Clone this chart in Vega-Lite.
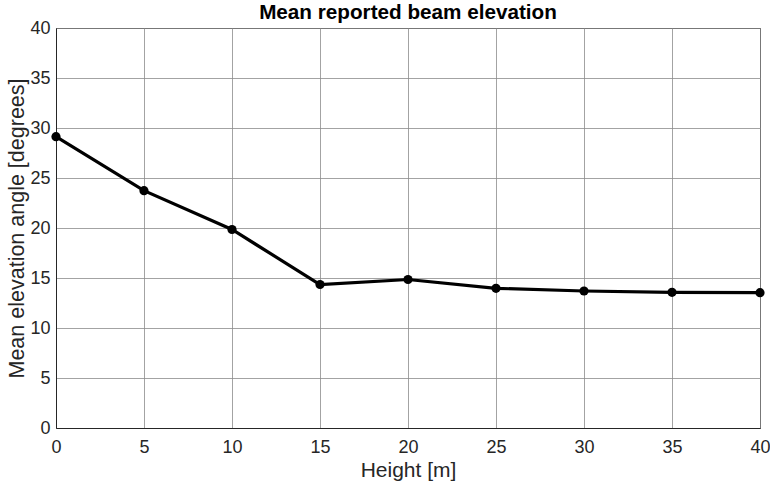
{
  "$schema": "https://vega.github.io/schema/vega-lite/v6.json",
  "width": 704,
  "height": 400,
  "autosize": {"type": "none"},
  "padding": {"left": 56, "top": 28, "right": 10, "bottom": 59},
  "background": "white",
  "title": {
    "text": "Mean reported beam elevation",
    "font": "Liberation Sans",
    "fontSize": 20.7,
    "fontWeight": "bold",
    "color": "#000000",
    "anchor": "middle",
    "offset": 0,
    "dy": 5
  },
  "config": {
    "view": {"stroke": "#262626", "strokeWidth": 1},
    "axis": {
      "labelFont": "Liberation Sans",
      "titleFont": "Liberation Sans",
      "labelFontSize": 18,
      "titleFontSize": 21,
      "labelColor": "#262626",
      "titleColor": "#262626",
      "titleFontWeight": "normal",
      "domainColor": "#262626",
      "gridColor": "#8c8c8c",
      "gridOpacity": 0.8,
      "ticks": false,
      "labelFlush": false
    }
  },
  "data": {
    "values": [
      {"h": 0, "angle": 29.13},
      {"h": 5, "angle": 23.73},
      {"h": 10, "angle": 19.85},
      {"h": 15, "angle": 14.35},
      {"h": 20, "angle": 14.85},
      {"h": 25, "angle": 13.97},
      {"h": 30, "angle": 13.7},
      {"h": 35, "angle": 13.57},
      {"h": 40, "angle": 13.53}
    ]
  },
  "encoding": {
    "x": {
      "field": "h",
      "type": "quantitative",
      "scale": {"domain": [0, 40], "nice": false},
      "axis": {"values": [0, 5, 10, 15, 20, 25, 30, 35, 40], "title": "Height [m]", "titlePadding": 3, "labelPadding": 10}
    },
    "y": {
      "field": "angle",
      "type": "quantitative",
      "scale": {"domain": [0, 40], "nice": false, "zero": true},
      "axis": {"values": [0, 5, 10, 15, 20, 25, 30, 35, 40], "title": "Mean elevation angle [degrees]", "titleFontSize": 21.5, "titlePadding": 1, "labelPadding": 6}
    }
  },
  "layer": [
    {"mark": {"type": "line", "color": "#000000", "strokeWidth": 3.2}},
    {"mark": {"type": "point", "filled": true, "color": "#000000", "opacity": 1, "size": 85}}
  ]
}
